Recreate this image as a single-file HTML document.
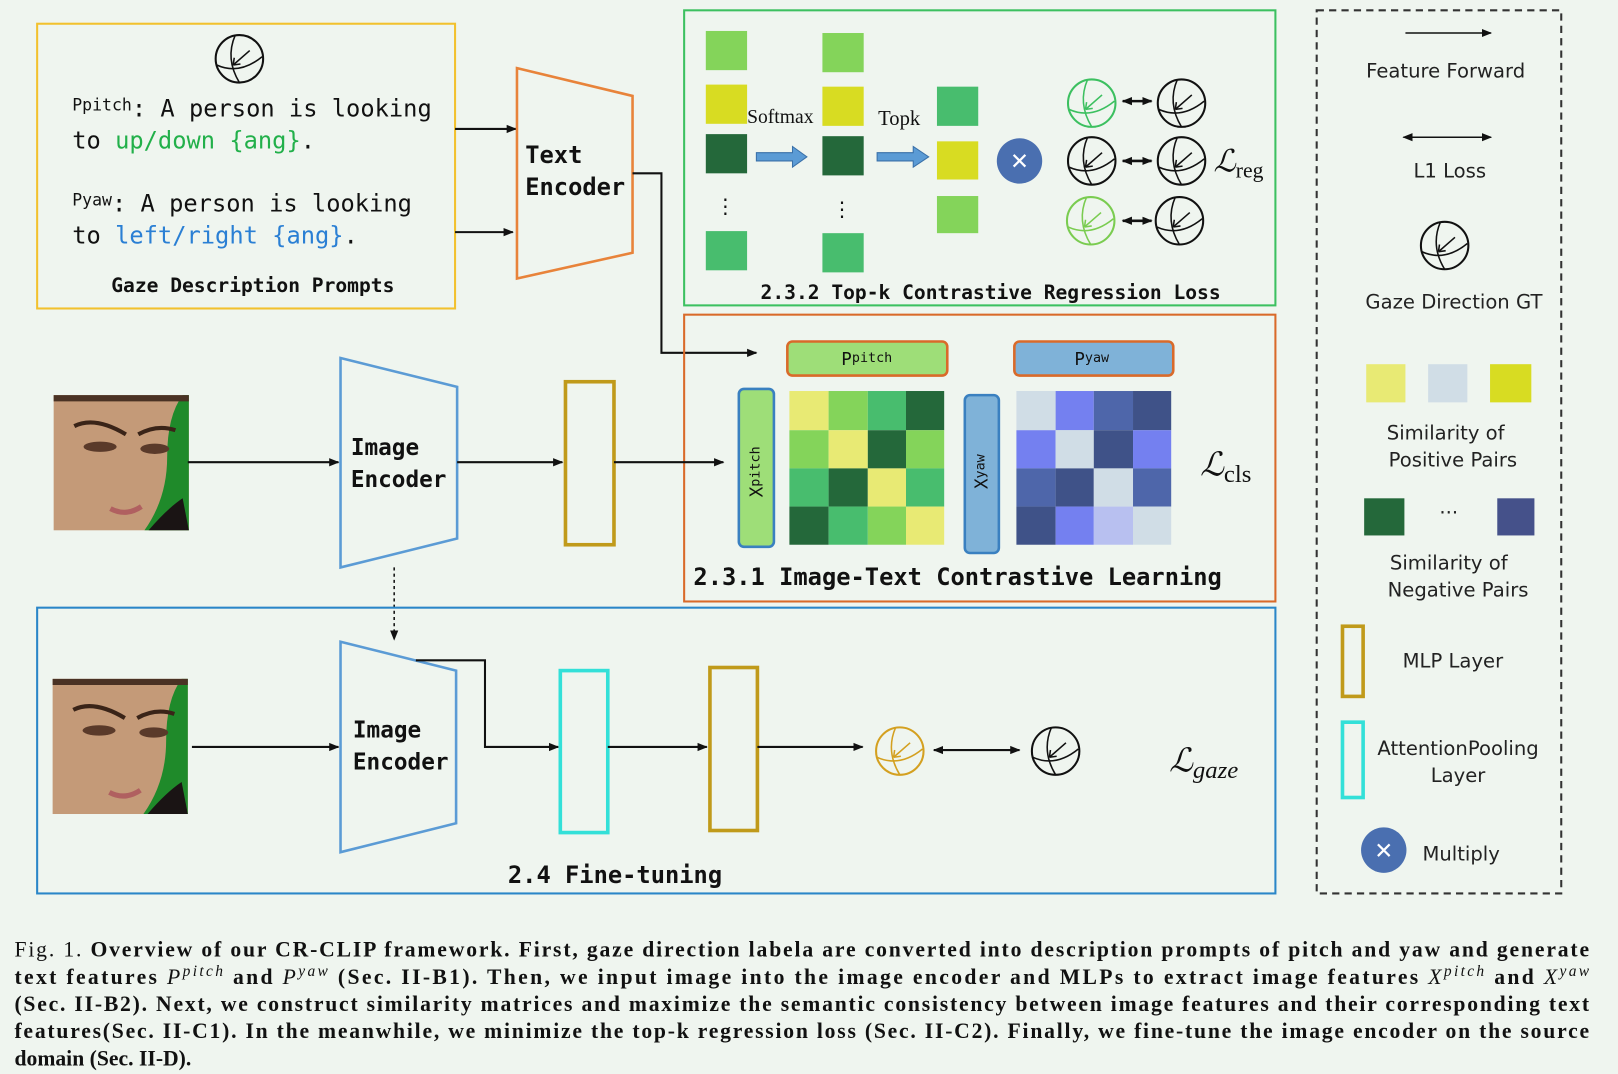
<!DOCTYPE html>
<html><head><meta charset="utf-8"><style>
html,body{margin:0;padding:0;background:#eff5ef;}
svg{display:block}
.m{font-family:"DejaVu Sans Mono","Liberation Mono",monospace;}
.mb{font-family:"DejaVu Sans Mono","Liberation Mono",monospace;font-weight:bold;}
.s{font-family:"DejaVu Sans","Liberation Sans",sans-serif;fill:#222;}
.r{font-family:"Liberation Serif",serif;}
.cap{font-family:"Liberation Serif",serif;font-weight:bold;font-size:21px;fill:#111;}
.it{font-weight:normal;font-style:italic;}
</style></head><body>
<svg width="1618" height="1074" viewBox="0 0 1568 1041" preserveAspectRatio="none" xmlns="http://www.w3.org/2000/svg">
<defs>
<marker id="a" markerWidth="10" markerHeight="10" refX="9" refY="5" orient="auto" markerUnits="userSpaceOnUse"><path d="M0,1 L10,5 L0,9 Z" fill="#111"/></marker>
<marker id="as" markerWidth="10" markerHeight="10" refX="1" refY="5" orient="auto" markerUnits="userSpaceOnUse"><path d="M10,1 L0,5 L10,9 Z" fill="#111"/></marker>
<g id="sph" fill="none" stroke-width="2">
<circle cx="0" cy="0" r="23"/>
<path d="M-22,6 Q0,16 22,-2" stroke-width="1.5"/>
<path d="M-4,-23 Q-14,0 0,23" stroke-width="1.5"/>
<path d="M10,-8 L-6,6" stroke-width="1.5"/>
<path d="M-6,6 L-5,-1 M-6,6 L1,5" stroke-width="1.5"/>
</g>
<g id="face">
<rect x="0" y="0" width="131" height="131" fill="#c49a78"/>
<path d="M131,0 L131,131 L88,131 Q110,100 110,60 Q110,20 125,0 Z" fill="#1f8a2a"/>
<path d="M0,0 L131,0 L131,6 L0,6 Z" fill="#4a3224"/>
<path d="M20,30 Q40,20 70,38 M82,38 Q100,28 118,34" stroke="#3a2418" stroke-width="4" fill="none"/>
<ellipse cx="45" cy="50" rx="16" ry="5" fill="#5a3a2a"/>
<ellipse cx="98" cy="52" rx="14" ry="5" fill="#5a3a2a"/>
<path d="M55,110 Q70,118 85,108" stroke="#b06060" stroke-width="5" fill="none"/>
<path d="M92,131 Q110,110 125,100 L131,131 Z" fill="#1a1414"/>
</g>
</defs>
<rect width="1568" height="1041" fill="#eff5ef"/>

<!-- Prompt box -->
<rect x="36" y="23" width="405" height="276" fill="none" stroke="#f2c12e" stroke-width="2"/>
<use href="#sph" x="232" y="57" stroke="#111"/>
<text class="m" x="70" y="113" font-size="23" fill="#111"><tspan font-size="16" dy="-6">Ppitch</tspan><tspan dy="6">: A person is looking</tspan></text>
<text class="m" x="70" y="144" font-size="23" fill="#111">to <tspan fill="#22b04a">up/down {ang}</tspan>.</text>
<text class="m" x="70" y="205" font-size="23" fill="#111"><tspan font-size="16" dy="-6">Pyaw</tspan><tspan dy="6">: A person is looking</tspan></text>
<text class="m" x="70" y="236" font-size="23" fill="#111">to <tspan fill="#2a7fd4">left/right {ang}</tspan>.</text>
<text class="mb" x="245" y="283" font-size="19" text-anchor="middle" fill="#111">Gaze Description Prompts</text>
<line x1="441" y1="125" x2="500" y2="125" stroke="#111" stroke-width="2" marker-end="url(#a)"/>
<line x1="441" y1="225" x2="497" y2="225" stroke="#111" stroke-width="2" marker-end="url(#a)"/>

<!-- Text encoder -->
<polygon points="501,66 613,93 613,245 501,270" fill="none" stroke="#e8833a" stroke-width="2.5"/>
<text class="mb" x="509" y="158" font-size="23" fill="#111">Text</text>
<text class="mb" x="509" y="189" font-size="23" fill="#111">Encoder</text>
<polyline points="613,168 641,168 641,342 733,342" fill="none" stroke="#111" stroke-width="2" marker-end="url(#a)"/>

<!-- Top-k box -->
<rect x="663" y="10" width="573" height="286" fill="none" stroke="#3cc060" stroke-width="2"/>
<rect x="684" y="30" width="40" height="38" fill="#84d45a"/>
<rect x="684" y="82" width="40" height="38" fill="#d8dc22"/>
<rect x="684" y="130" width="40" height="38" fill="#24683a"/>
<text class="r" x="703" y="207" font-size="20" text-anchor="middle" fill="#111">⋮</text>
<rect x="684" y="224" width="40" height="38" fill="#48bd6e"/>
<rect x="797" y="32" width="40" height="38" fill="#84d45a"/>
<rect x="797" y="84" width="40" height="38" fill="#d8dc22"/>
<rect x="797" y="132" width="40" height="38" fill="#24683a"/>
<text class="r" x="816" y="210" font-size="20" text-anchor="middle" fill="#111">⋮</text>
<rect x="797" y="226" width="40" height="38" fill="#48bd6e"/>
<text class="r" x="724" y="119" font-size="19" fill="#111">Softmax</text>
<text class="r" x="851" y="121" font-size="20" fill="#111">Topk</text>
<polygon points="733,148 768,148 768,142 782,152 768,162 768,156 733,156" fill="#5b9bd5" stroke="#3a70a8" stroke-width="1"/>
<polygon points="850,148 885,148 885,142 900,152 885,162 885,156 850,156" fill="#5b9bd5" stroke="#3a70a8" stroke-width="1"/>
<rect x="908" y="84" width="40" height="38" fill="#48bd6e"/>
<rect x="908" y="137" width="40" height="37" fill="#d8dc22"/>
<rect x="908" y="190" width="40" height="36" fill="#84d45a"/>
<circle cx="988" cy="156" r="22" fill="#4a6fb0"/>
<text class="s" x="988" y="164" font-size="22" text-anchor="middle" fill="#fff" style="fill:#fff">✕</text>
<use href="#sph" x="1058" y="100" stroke="#3cc060"/>
<use href="#sph" x="1058" y="156" stroke="#111"/>
<use href="#sph" x="1057" y="214" stroke="#7acc50"/>
<use href="#sph" x="1145" y="100" stroke="#111"/>
<use href="#sph" x="1145" y="156" stroke="#111"/>
<use href="#sph" x="1143" y="214" stroke="#111"/>
<line x1="1088" y1="98" x2="1116" y2="98" stroke="#111" stroke-width="2.5" marker-start="url(#as)" marker-end="url(#a)"/>
<line x1="1088" y1="156" x2="1116" y2="156" stroke="#111" stroke-width="2.5" marker-start="url(#as)" marker-end="url(#a)"/>
<line x1="1088" y1="214" x2="1116" y2="214" stroke="#111" stroke-width="2.5" marker-start="url(#as)" marker-end="url(#a)"/>
<text class="r" x="1176" y="166" font-size="30" font-style="italic" fill="#111">ℒ<tspan font-size="21" font-style="normal" dy="6">reg</tspan></text>
<text class="mb" x="960" y="290" font-size="19" text-anchor="middle" fill="#111">2.3.2 Top-k Contrastive Regression Loss</text>

<!-- Contrastive box -->
<rect x="663" y="305" width="573" height="278" fill="none" stroke="#d96a2a" stroke-width="2"/>
<rect x="763" y="331" width="155" height="33" rx="5" fill="#9ede78" stroke="#d96a2a" stroke-width="2.5"/>
<text class="m" x="840" y="354" font-size="17" text-anchor="middle" fill="#111">P<tspan font-size="13" dy="-3">pitch</tspan></text>
<rect x="983" y="331" width="154" height="33" rx="5" fill="#7fb2d8" stroke="#d96a2a" stroke-width="2.5"/>
<text class="m" x="1058" y="354" font-size="17" text-anchor="middle" fill="#111">P<tspan font-size="13" dy="-3">yaw</tspan></text>
<rect x="716" y="377" width="34" height="153" rx="5" fill="#9ede78" stroke="#3a80c0" stroke-width="2.5"/>
<text class="m" font-size="17" fill="#111" transform="translate(739,482) rotate(-90)">X<tspan font-size="13" dy="-3">pitch</tspan></text>
<rect x="935" y="383" width="33" height="153" rx="5" fill="#7fb2d8" stroke="#3a80c0" stroke-width="2.5"/>
<text class="m" font-size="17" fill="#111" transform="translate(957,474) rotate(-90)">X<tspan font-size="13" dy="-3">yaw</tspan></text>
<g>
<rect x="765" y="379" width="38" height="38" fill="#e8ea74"/><rect x="803" y="379" width="38" height="38" fill="#84d45a"/><rect x="841" y="379" width="37" height="38" fill="#48bd6e"/><rect x="878" y="379" width="37" height="38" fill="#24683a"/>
<rect x="765" y="417" width="38" height="37" fill="#84d45a"/><rect x="803" y="417" width="38" height="37" fill="#e8ea74"/><rect x="841" y="417" width="37" height="37" fill="#24683a"/><rect x="878" y="417" width="37" height="37" fill="#84d45a"/>
<rect x="765" y="454" width="38" height="37" fill="#48bd6e"/><rect x="803" y="454" width="38" height="37" fill="#24683a"/><rect x="841" y="454" width="37" height="37" fill="#e8ea74"/><rect x="878" y="454" width="37" height="37" fill="#48bd6e"/>
<rect x="765" y="491" width="38" height="37" fill="#24683a"/><rect x="803" y="491" width="38" height="37" fill="#48bd6e"/><rect x="841" y="491" width="37" height="37" fill="#84d45a"/><rect x="878" y="491" width="37" height="37" fill="#e8ea74"/>
</g>
<g>
<rect x="985" y="379" width="38" height="38" fill="#d0dde6"/><rect x="1023" y="379" width="37" height="38" fill="#7480f0"/><rect x="1060" y="379" width="38" height="38" fill="#4e66aa"/><rect x="1098" y="379" width="37" height="38" fill="#3f5288"/>
<rect x="985" y="417" width="38" height="37" fill="#7480f0"/><rect x="1023" y="417" width="37" height="37" fill="#d0dde6"/><rect x="1060" y="417" width="38" height="37" fill="#3f5288"/><rect x="1098" y="417" width="37" height="37" fill="#7480f0"/>
<rect x="985" y="454" width="38" height="37" fill="#4e66aa"/><rect x="1023" y="454" width="37" height="37" fill="#3f5288"/><rect x="1060" y="454" width="38" height="37" fill="#d0dde6"/><rect x="1098" y="454" width="37" height="37" fill="#4e66aa"/>
<rect x="985" y="491" width="38" height="37" fill="#3f5288"/><rect x="1023" y="491" width="37" height="37" fill="#7480f0"/><rect x="1060" y="491" width="38" height="37" fill="#b8c0f0"/><rect x="1098" y="491" width="37" height="37" fill="#d0dde6"/>
</g>
<text class="r" x="1163" y="461" font-size="32" font-style="italic" fill="#111">ℒ<tspan font-size="24" font-style="normal" dy="6">cls</tspan></text>
<text class="mb" x="672" y="567" font-size="23" fill="#111">2.3.1 Image-Text Contrastive Learning</text>

<!-- Row 2 -->
<use href="#face" x="52" y="383"/>
<line x1="182" y1="448" x2="328" y2="448" stroke="#111" stroke-width="2" marker-end="url(#a)"/>
<polygon points="330,347 443,375 443,522 330,550" fill="none" stroke="#5b9bd5" stroke-width="2.5"/>
<text class="mb" x="340" y="441" font-size="22" fill="#111">Image</text>
<text class="mb" x="340" y="472" font-size="22" fill="#111">Encoder</text>
<line x1="443" y1="448" x2="545" y2="448" stroke="#111" stroke-width="2" marker-end="url(#a)"/>
<rect x="548" y="370" width="47" height="158" fill="none" stroke="#c09a1a" stroke-width="3.5"/>
<line x1="595" y1="448" x2="701" y2="448" stroke="#111" stroke-width="2" marker-end="url(#a)"/>
<line x1="382" y1="550" x2="382" y2="620" stroke="#111" stroke-width="1.5" stroke-dasharray="3,3" marker-end="url(#a)"/>

<!-- Fine-tuning -->
<rect x="36" y="589" width="1200" height="277" fill="none" stroke="#2a86c8" stroke-width="2"/>
<use href="#face" x="51" y="658"/>
<line x1="186" y1="724" x2="328" y2="724" stroke="#111" stroke-width="2" marker-end="url(#a)"/>
<polygon points="330,622 442,650 442,798 330,826" fill="none" stroke="#5b9bd5" stroke-width="2.5"/>
<text class="mb" x="342" y="715" font-size="22" fill="#111">Image</text>
<text class="mb" x="342" y="746" font-size="22" fill="#111">Encoder</text>
<polyline points="403,640 470,640 470,724 541,724" fill="none" stroke="#111" stroke-width="2" marker-end="url(#a)"/>
<rect x="543" y="650" width="46" height="157" fill="none" stroke="#33e0d8" stroke-width="3.5"/>
<line x1="589" y1="724" x2="685" y2="724" stroke="#111" stroke-width="2" marker-end="url(#a)"/>
<rect x="688" y="647" width="46" height="158" fill="none" stroke="#c09a1a" stroke-width="3.5"/>
<line x1="734" y1="724" x2="836" y2="724" stroke="#111" stroke-width="2" marker-end="url(#a)"/>
<use href="#sph" x="872" y="728" stroke="#d4a020"/>
<line x1="905" y1="727" x2="988" y2="727" stroke="#111" stroke-width="2" marker-start="url(#as)" marker-end="url(#a)"/>
<use href="#sph" x="1023" y="728" stroke="#111"/>
<text class="r" x="1133" y="748" font-size="32" font-style="italic" fill="#111">ℒ<tspan font-size="24" dy="6">gaze</tspan></text>
<text class="mb" x="596" y="856" font-size="23" text-anchor="middle" fill="#111">2.4 Fine-tuning</text>

<!-- Legend -->
<rect x="1276" y="10" width="237" height="856" fill="none" stroke="#333" stroke-width="2" stroke-dasharray="7,5"/>
<line x1="1362" y1="32" x2="1445" y2="32" stroke="#111" stroke-width="1.5" marker-end="url(#a)"/>
<text class="s" x="1401" y="75" font-size="19" text-anchor="middle">Feature Forward</text>
<line x1="1360" y1="133" x2="1445" y2="133" stroke="#111" stroke-width="1.5" marker-start="url(#as)" marker-end="url(#a)"/>
<text class="s" x="1405" y="172" font-size="19" text-anchor="middle">L1 Loss</text>
<use href="#sph" x="1400" y="238" stroke="#111"/>
<text class="s" x="1409" y="299" font-size="19" text-anchor="middle">Gaze Direction GT</text>
<rect x="1324" y="353" width="38" height="37" fill="#e8ea74"/>
<rect x="1384" y="353" width="38" height="37" fill="#d0dde6"/>
<rect x="1444" y="353" width="40" height="37" fill="#d8dc22"/>
<text class="s" x="1401" y="426" font-size="19" text-anchor="middle">Similarity of</text>
<text class="s" x="1408" y="452" font-size="19" text-anchor="middle">Positive Pairs</text>
<rect x="1322" y="483" width="39" height="36" fill="#24683a"/>
<text class="s" x="1404" y="503" font-size="19" text-anchor="middle">···</text>
<rect x="1451" y="483" width="36" height="36" fill="#45518a"/>
<text class="s" x="1404" y="552" font-size="19" text-anchor="middle">Similarity of</text>
<text class="s" x="1413" y="578" font-size="19" text-anchor="middle">Negative Pairs</text>
<rect x="1301" y="607" width="20" height="68" fill="none" stroke="#c09a1a" stroke-width="3.5"/>
<text class="s" x="1408" y="647" font-size="19" text-anchor="middle">MLP Layer</text>
<rect x="1301" y="700" width="20" height="73" fill="none" stroke="#33e0d8" stroke-width="3.5"/>
<text class="s" x="1413" y="732" font-size="19" text-anchor="middle">AttentionPooling</text>
<text class="s" x="1413" y="758" font-size="19" text-anchor="middle">Layer</text>
<circle cx="1341" cy="824" r="22" fill="#4a6fb0"/>
<text class="s" x="1341" y="832" font-size="22" text-anchor="middle" style="fill:#fff">✕</text>
<text class="s" x="1416" y="834" font-size="19" text-anchor="middle">Multiply</text>

<!-- Caption -->
<text class="cap" x="14" y="927" textLength="1526" lengthAdjust="spacing"><tspan font-weight="normal">Fig. 1.  </tspan>Overview of our CR-CLIP framework. First, gaze direction labela are converted into description prompts of pitch and yaw and generate</text>
<text class="cap" x="14" y="954" textLength="1526" lengthAdjust="spacing">text features <tspan class="it">P</tspan><tspan class="it" font-size="15" dy="-8">pitch</tspan><tspan dy="8"> and </tspan><tspan class="it">P</tspan><tspan class="it" font-size="15" dy="-8">yaw</tspan><tspan dy="8"> (Sec. II-B1). Then, we input image into the image encoder and MLPs to extract image features </tspan><tspan class="it">X</tspan><tspan class="it" font-size="15" dy="-8">pitch</tspan><tspan dy="8"> and </tspan><tspan class="it">X</tspan><tspan class="it" font-size="15" dy="-8">yaw</tspan></text>
<text class="cap" x="14" y="980" textLength="1526" lengthAdjust="spacing">(Sec. II-B2). Next, we construct similarity matrices and maximize the semantic consistency between image features and their corresponding text</text>
<text class="cap" x="14" y="1006" textLength="1526" lengthAdjust="spacing">features(Sec. II-C1). In the meanwhile, we minimize the top-k regression loss (Sec. II-C2). Finally, we fine-tune the image encoder on the source</text>
<text class="cap" x="14" y="1033">domain (Sec. II-D).</text>
</svg>
</body></html>
